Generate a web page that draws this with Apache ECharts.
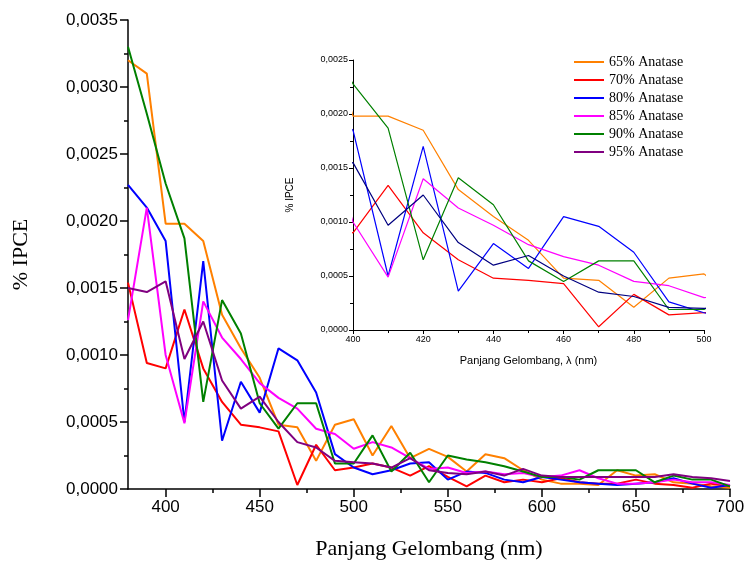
<!DOCTYPE html>
<html>
<head>
<meta charset="utf-8">
<script src="https://cdn.jsdelivr.net/npm/echarts@6/dist/echarts.min.js"></script>
<style>
  html, body { margin: 0; padding: 0; background: #fff; }
  #chart { width: 748px; height: 561px; }
</style>
</head>
<body>
<div id="chart"></div>
<script>
// wavelength (nm)
var wl = [380, 390, 400, 410, 420, 430, 440, 450, 460, 470, 480, 490, 500, 510, 520, 530, 540,
          550, 560, 570, 580, 590, 600, 610, 620, 630, 640, 650, 660, 670, 680, 690, 700];

var a65 = [0.0032, 0.0031, 0.00198, 0.00198, 0.00185, 0.0013, 0.00105, 0.00083, 0.00048, 0.00046, 0.00021,
           0.00048, 0.00052, 0.00025, 0.00047, 0.00023, 0.0003, 0.00024, 0.00013, 0.00026, 0.00023, 0.00014,
           0.00007, 0.00004, 0.00004, 0.00003, 0.00014, 0.0001, 0.00011, 0.00005, 0.00004, 0.00002, 0.00001];
var a70 = [0.00154, 0.00094, 0.0009, 0.00134, 0.0009, 0.00065, 0.00048, 0.00046, 0.00043, 0.00003, 0.00033,
           0.00014, 0.00016, 0.00019, 0.00016, 0.0001, 0.00017, 0.00009, 0.00002, 0.0001, 0.00005, 0.00007,
           0.00005, 0.00008, 0.00005, 0.00004, 0.00004, 0.00007, 0.00004, 0.00003, 0.00001, 0.00004, 0.00002];
var a80 = [0.00227, 0.0021, 0.00185, 0.0005, 0.0017, 0.00036, 0.0008, 0.00057, 0.00105, 0.00096, 0.00072,
           0.00026, 0.00016, 0.00011, 0.00014, 0.00019, 0.0002, 0.00007, 0.00013, 0.00012, 0.00007, 0.00005,
           0.00009, 0.00007, 0.00005, 0.00004, 0.00003, 0.00004, 0.00005, 0.00008, 0.00004, 0.00001, 0.00003];
var a85 = [0.00126, 0.0021, 0.001, 0.00049, 0.0014, 0.00113, 0.00097, 0.00079, 0.00068, 0.0006, 0.00045,
           0.00041, 0.0003, 0.00035, 0.00031, 0.00023, 0.00015, 0.00016, 0.00012, 0.00013, 0.00011, 0.00012,
           0.00009, 0.0001, 0.00014, 0.00008, 0.00004, 0.00004, 0.00005, 0.00007, 0.00005, 0.00005, 0.00003];
var a90 = [0.0033, 0.0028, 0.00228, 0.00187, 0.00065, 0.00141, 0.00116, 0.00064, 0.00045, 0.00064, 0.00064,
           0.00019, 0.00019, 0.0004, 0.00013, 0.00027, 0.00005, 0.00025, 0.00022, 0.0002, 0.00017, 0.00013,
           0.00009, 0.00009, 0.00007, 0.00014, 0.00014, 0.00014, 0.00005, 0.0001, 0.00007, 0.00007, 0.00002];
var a95 = [0.0015, 0.00147, 0.00155, 0.00097, 0.00125, 0.00081, 0.0006, 0.00069, 0.0005, 0.00035, 0.00031,
           0.00021, 0.0002, 0.00019, 0.00016, 0.00023, 0.00014, 0.00012, 0.00011, 0.00013, 0.0001, 0.00015,
           0.0001, 0.00009, 0.00009, 0.00009, 0.00009, 0.00009, 0.00009, 0.00011, 0.00009, 0.00008, 0.00006];

var names = ['65% Anatase', '70% Anatase', '80% Anatase', '85% Anatase', '90% Anatase', '95% Anatase'];
var values = [a65, a70, a80, a85, a90, a95];
var colors = ['#ff8000', '#ff0000', '#0000ff', '#ff00ff', '#008000', '#800080'];
var insetColors = ['#ff8000', '#ff0000', '#0000ff', '#ff00ff', '#008000', '#000080'];

var xMajor = [400, 450, 500, 550, 600, 650, 700];
var xMinor = [425, 475, 525, 575, 625, 675];

function pairs(arr) {
  return wl.map(function (x, i) { return [x, arr[i]]; });
}
function comma(v) {
  return v.toFixed(4).replace('.', ',');
}

var series = [];
for (var i = 0; i < names.length; i++) {
  series.push({
    name: names[i], type: 'line', xAxisIndex: 0, yAxisIndex: 0,
    data: pairs(values[i]), symbol: 'none',
    lineStyle: { width: 2, color: colors[i] }, itemStyle: { color: colors[i] }
  });
}
for (var j = 0; j < names.length; j++) {
  series.push({
    name: names[j], type: 'line', xAxisIndex: 2, yAxisIndex: 1,
    data: pairs(values[j]), symbol: 'none', clip: true,
    lineStyle: { width: 1.2, color: insetColors[j] }, itemStyle: { color: insetColors[j] }
  });
}

var axisBlack = { lineStyle: { color: '#000', width: 1.5 } };

var myChart = echarts.init(document.getElementById('chart'));
myChart.setOption({
  animation: false,
  backgroundColor: '#fff',
  legend: {
    data: names, orient: 'vertical', left: 569, top: 50,
    icon: 'rect', itemWidth: 30, itemHeight: 2, itemGap: 4,
    textStyle: { fontFamily: 'Liberation Serif', fontSize: 14, lineHeight: 14, color: '#000' }
  },
  grid: [
    { left: 128, right: 18, top: 20, bottom: 72, containLabel: false, outerBoundsMode: 'none' },
    { left: 353, right: 44, top: 60, bottom: 231, containLabel: false, outerBoundsMode: 'none' }
  ],
  xAxis: [
    {
      type: 'value', gridIndex: 0, min: 380, max: 700,
      name: 'Panjang Gelombang (nm)', nameLocation: 'middle', nameGap: 49,
      nameTextStyle: { fontFamily: 'Liberation Serif', fontSize: 22, color: '#000' },
      axisLine: axisBlack,
      axisTick: { customValues: xMajor, length: 8, lineStyle: { color: '#000', width: 1.5 } },
      axisLabel: { customValues: xMajor, margin: 10, fontFamily: 'Liberation Sans', fontSize: 17, color: '#000' },
      splitLine: { show: false }
    },
    {
      type: 'value', gridIndex: 0, min: 380, max: 700, position: 'bottom',
      axisLine: { show: false },
      axisTick: { customValues: xMinor, length: 4, lineStyle: { color: '#000', width: 1.5 } },
      axisLabel: { show: false },
      splitLine: { show: false }
    },
    {
      type: 'value', gridIndex: 1, min: 400, max: 500, interval: 20,
      name: 'Panjang Gelombang, λ (nm)', nameLocation: 'middle', nameGap: 25,
      nameTextStyle: { fontFamily: 'Liberation Sans', fontSize: 11, color: '#000' },
      axisLine: { lineStyle: { color: '#000', width: 1 } },
      axisTick: { length: 4, lineStyle: { color: '#000' } },
      minorTick: { show: true, splitNumber: 2, length: 3, lineStyle: { color: '#000' } },
      axisLabel: { margin: 5, fontFamily: 'Liberation Sans', fontSize: 9, color: '#000' },
      splitLine: { show: false }
    }
  ],
  yAxis: [
    {
      type: 'value', gridIndex: 0, min: 0, max: 0.0035, interval: 0.0005,
      name: '% IPCE', nameLocation: 'middle', nameGap: 96, nameRotate: 90,
      nameTextStyle: { fontFamily: 'Liberation Serif', fontSize: 22, color: '#000' },
      axisLine: axisBlack,
      axisTick: { length: 8, lineStyle: { color: '#000', width: 1.5 } },
      minorTick: { show: true, splitNumber: 2, length: 4, lineStyle: { color: '#000', width: 1.5 } },
      axisLabel: { margin: 10, formatter: comma, fontFamily: 'Liberation Sans', fontSize: 17, color: '#000' },
      splitLine: { show: false }
    },
    {
      type: 'value', gridIndex: 1, min: 0, max: 0.0025, interval: 0.0005,
      name: '% IPCE', nameLocation: 'middle', nameGap: 58, nameRotate: 90,
      nameTextStyle: { fontFamily: 'Liberation Sans', fontSize: 10, color: '#000' },
      axisLine: { lineStyle: { color: '#000', width: 1 } },
      axisTick: { length: 4, lineStyle: { color: '#000' } },
      minorTick: { show: true, splitNumber: 2, length: 3, lineStyle: { color: '#000' } },
      axisLabel: { margin: 5, formatter: comma, fontFamily: 'Liberation Sans', fontSize: 9, color: '#000' },
      splitLine: { show: false }
    }
  ],
  series: series
});
</script>
</body>
</html>
